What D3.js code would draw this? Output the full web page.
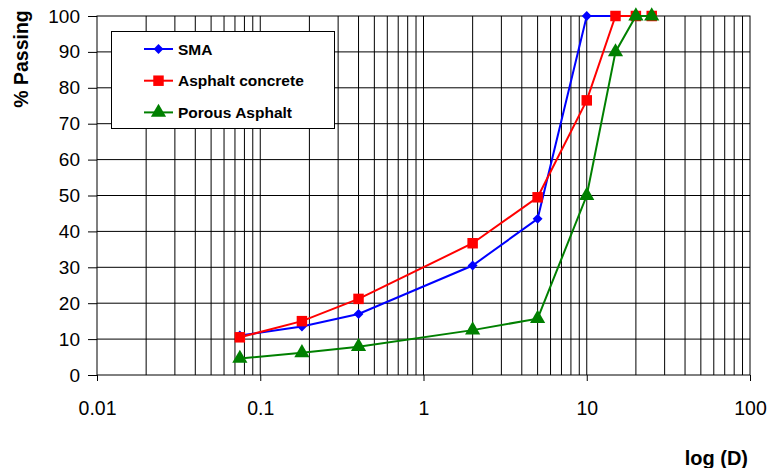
<!DOCTYPE html>
<html>
<head>
<meta charset="utf-8">
<script src="https://cdn.jsdelivr.net/npm/d3@7"></script>
<style>
  body { margin: 0; background: #fff; }
  text { font-family: "Liberation Sans", Arial, sans-serif; }
</style>
</head>
<body>
<div id="chart"></div>
<script>
const sieve = [0.075, 0.18, 0.4, 2, 5, 10, 15, 20, 25];
const sma = [11, 13.5, 17, 30.5, 43.5, 100, 100, 100, 100];
const asphaltConcrete = [10.5, 15, 21.2, 36.7, 49.5, 76.5, 100, 100, 100];
const porousAsphalt = [4.6, 6.2, 7.9, 12.5, 15.7, 50, 90, 100, 100];
const seriesNames = ["SMA", "Asphalt concrete", "Porous Asphalt"];
const xTicks = [0.01, 0.1, 1, 10, 100];
const yTicks = [0, 10, 20, 30, 40, 50, 60, 70, 80, 90, 100];

const width = 768, height = 468;
const x0 = 97, x1 = 750, y0 = 375, y1 = 16;

const svg = d3.select("#chart").append("svg")
    .attr("width", width)
    .attr("height", height);

const x = d3.scaleLog().domain([0.01, 100]).range([x0, x1]);
const y = d3.scaleLinear().domain([0, 100]).range([y0, y1]);

// vertical grid (minor log lines)
const minor = [];
for (let e = -2; e < 2; e++) {
    for (let m = 1; m <= 9; m++) minor.push(m * Math.pow(10, e));
}
svg.append("g").selectAll("line")
    .data(minor.filter(v => v > 0.01 && v < 100))
    .enter().append("line")
    .attr("x1", d => x(d)).attr("x2", d => x(d))
    .attr("y1", y0).attr("y2", y1)
    .attr("stroke", "#000").attr("stroke-width", 1);

// horizontal grid
svg.append("g").selectAll("line")
    .data(yTicks.filter(v => v > 0 && v < 100))
    .enter().append("line")
    .attr("x1", x0).attr("x2", x1)
    .attr("y1", d => y(d)).attr("y2", d => y(d))
    .attr("stroke", "#000").attr("stroke-width", 1);

// frame
svg.append("rect")
    .attr("x", x0).attr("y", y1)
    .attr("width", x1 - x0).attr("height", y0 - y1)
    .attr("fill", "none").attr("stroke", "#000").attr("stroke-width", 1);

// axes
const xAxis = svg.append("g")
    .attr("transform", `translate(0,${y0})`)
    .call(d3.axisBottom(x).tickValues(xTicks).tickFormat(d => String(d)).tickSize(6).tickPadding(20));
xAxis.select(".domain").remove();
xAxis.selectAll("text").style("font-size", "19.5px").attr("fill", "#000")
    .style("font-family", '"Liberation Sans", Arial, sans-serif');

const yAxis = svg.append("g")
    .attr("transform", `translate(${x0},0)`)
    .call(d3.axisLeft(y).tickValues(yTicks).tickSize(9).tickPadding(8));
yAxis.select(".domain").remove();
yAxis.selectAll("text").style("font-size", "19px").attr("fill", "#000")
    .style("font-family", '"Liberation Sans", Arial, sans-serif');

// axis titles
svg.append("text")
    .attr("transform", "translate(28,59) rotate(-90)")
    .attr("text-anchor", "middle")
    .style("font-size", "19.5px").attr("font-weight", "bold")
    .text("% Passing");

svg.append("text")
    .attr("x", 748).attr("y", 465)
    .attr("text-anchor", "end")
    .style("font-size", "20px").attr("font-weight", "bold")
    .text("log (D)");

// series
const series = [
    { name: seriesNames[0], values: sma, color: "#0000ff", symbol: d3.symbolDiamond2, size: 62 },
    { name: seriesNames[1], values: asphaltConcrete, color: "#ff0000", symbol: d3.symbolSquare, size: 110 },
    { name: seriesNames[2], values: porousAsphalt, color: "#008000", symbol: d3.symbolTriangle, size: 100 }
];

const line = d3.line().x(d => x(d[0])).y(d => y(d[1]));

series.forEach(s => {
    const pts = sieve.map((v, i) => [v, s.values[i]]);
    svg.append("path")
        .datum(pts)
        .attr("d", line)
        .attr("fill", "none")
        .attr("stroke", s.color)
        .attr("stroke-width", 2);
    svg.append("g").selectAll("path")
        .data(pts)
        .enter().append("path")
        .attr("transform", d => `translate(${x(d[0])},${y(d[1])})`)
        .attr("d", d3.symbol().type(s.symbol).size(s.size))
        .attr("fill", s.color);
});

// legend
const legend = svg.append("g");
legend.append("rect")
    .attr("x", 111.5).attr("y", 31.5)
    .attr("width", 223).attr("height", 97)
    .attr("fill", "#fff").attr("stroke", "#000").attr("stroke-width", 1);

series.forEach((s, i) => {
    const ly = 49 + i * 31.7;
    legend.append("line")
        .attr("x1", 144).attr("x2", 173)
        .attr("y1", ly).attr("y2", ly)
        .attr("stroke", s.color).attr("stroke-width", 2);
    legend.append("path")
        .attr("transform", `translate(158.5,${ly})`)
        .attr("d", d3.symbol().type(s.symbol).size(s.size))
        .attr("fill", s.color);
    legend.append("text")
        .attr("x", 178).attr("y", ly + 5.5)
        .style("font-size", "15.5px").attr("font-weight", "bold")
        .text(s.name);
});
</script>
</body>
</html>
